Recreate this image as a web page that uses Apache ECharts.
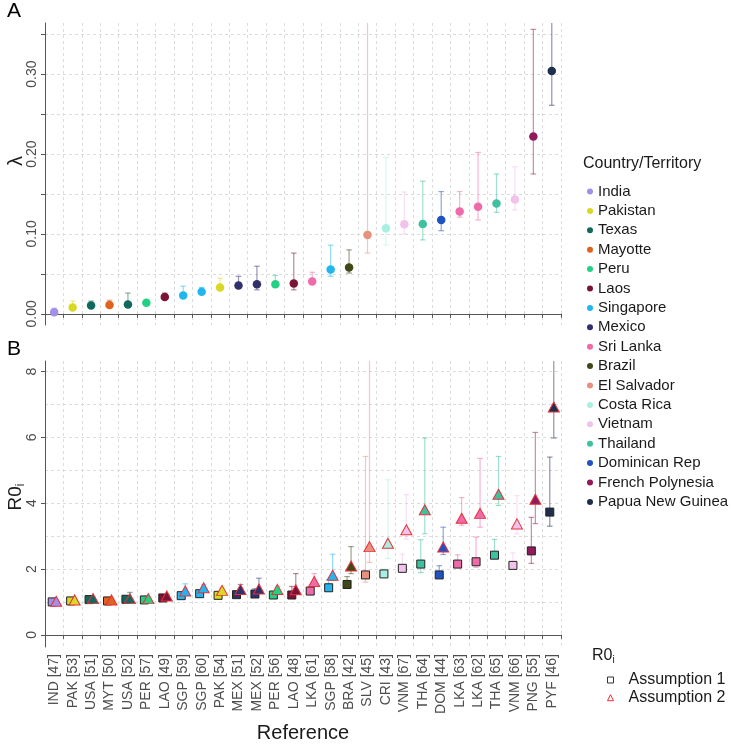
<!DOCTYPE html>
<html><head><meta charset="utf-8">
<script src="https://cdn.jsdelivr.net/npm/echarts@6/dist/echarts.min.js"></script>
<style>html,body{margin:0;padding:0;background:#fff}#c{width:735px;height:744px}</style>
</head><body><div id="c"></div><script>
const categories = ['IND [47]','PAK [53]','USA [51]','MYT [50]','USA [52]','PER [57]','LAO [49]','SGP [59]','SGP [60]','PAK [54]','MEX [51]','MEX [52]','PER [56]','LAO [48]','LKA [61]','SGP [58]','BRA [42]','SLV [45]','CRI [43]','VNM [67]','THA [64]','DOM [44]','LKA [63]','LKA [62]','THA [65]','VNM [66]','PNG [55]','PYF [46]'];
const countries = ['India','Pakistan','Texas','Mayotte','Peru','Laos','Singapore','Mexico','Sri Lanka','Brazil','El Salvador','Costa Rica','Vietnam','Thailand','Dominican Rep','French Polynesia','Papua New Guinea'];
const countryColors = ['#a38ee8','#d9d925','#11695e','#e0621f','#22d183','#7b1237','#22b6f0','#30306b','#ef6aa8','#3f4818','#e8917e','#aaf0e2','#f2c2ea','#3fc09f','#2152c2','#911a5b','#1e2f4e'];
const pointCountry = ['India','Pakistan','Texas','Mayotte','Texas','Peru','Laos','Singapore','Singapore','Pakistan','Mexico','Mexico','Peru','Laos','Sri Lanka','Singapore','Brazil','El Salvador','Costa Rica','Vietnam','Thailand','Dominican Rep','Sri Lanka','Sri Lanka','Thailand','Vietnam','French Polynesia','Papua New Guinea'];

const lambda     = [0.002,0.008,0.0104,0.011,0.0117,0.0138,0.021,0.023,0.0275,0.033,0.0354,0.037,0.037,0.038,0.0404,0.0554,0.058,0.0988,0.107,0.112,0.1125,0.1175,0.128,0.134,0.138,0.143,0.222,0.304];
const lambdaLow  = [0.000,0.006,0.008,0.009,0.009,0.012,0.019,0.020,0.025,0.031,0.0317,0.030,0.034,0.030,0.038,0.047,0.051,0.076,0.086,0.100,0.0925,0.104,0.121,0.1175,0.127,0.130,0.175,0.261];
const lambdaHigh = [0.007,0.016,0.016,0.017,0.026,0.015,0.026,0.0346,0.033,0.0446,0.047,0.0596,0.048,0.076,0.052,0.0859,0.080,0.45,0.196,0.1525,0.166,0.153,0.153,0.202,0.175,0.184,0.356,0.40];

const r0A1     = [1.00,1.03,1.07,1.03,1.08,1.06,1.12,1.19,1.25,1.20,1.22,1.24,1.21,1.21,1.33,1.43,1.53,1.82,1.85,2.02,2.15,1.82,2.15,2.22,2.42,2.11,2.55,3.73];
const r0A1Low  = [0.98,1.01,1.05,1.01,1.05,1.04,1.10,1.15,1.22,1.17,1.19,1.20,1.19,1.17,1.30,1.36,1.48,1.60,1.78,1.95,1.89,1.75,2.05,2.05,2.33,2.03,2.17,3.30];
const r0A1High = [1.03,1.06,1.10,1.05,1.12,1.08,1.15,1.24,1.30,1.24,1.27,1.40,1.25,1.47,1.37,1.68,1.77,5.42,2.00,2.45,2.89,2.10,2.43,2.97,2.90,2.49,3.57,5.40];

const r0A2     = [1.02,1.06,1.10,1.06,1.10,1.10,1.18,1.33,1.43,1.35,1.38,1.39,1.38,1.37,1.62,1.81,2.09,2.68,2.78,3.19,3.80,2.67,3.54,3.69,4.27,3.37,4.12,6.92];
const r0A2Low  = [1.00,1.03,1.07,1.03,1.05,1.07,1.14,1.25,1.35,1.30,1.32,1.30,1.33,1.28,1.50,1.65,1.86,2.20,2.32,2.91,3.07,2.44,3.33,3.27,3.93,3.07,3.38,5.98];
const r0A2High = [1.05,1.10,1.14,1.10,1.29,1.14,1.22,1.55,1.52,1.43,1.53,1.72,1.45,1.86,1.86,2.45,2.68,10.0,4.71,4.26,5.98,3.27,4.17,5.36,5.42,4.23,6.15,9.0];

const lambdaTicks  = [0,0.05,0.10,0.15,0.20,0.25,0.30,0.35];
const lambdaLabels = [0,0.10,0.20,0.30];
const r0Ticks  = [0,2,4,6,8];
const r0Grid   = [0,1,2,3,4,5,6,7,8];

const FONT = "'Liberation Sans', Arial, sans-serif";
const colorOf = i => countryColors[countries.indexOf(pointCountry[i])];
const gridLine = {show:true, interval:0, lineStyle:{color:'#dcdcdc', type:[3,3], width:1}};
const axisLn = {show:true, lineStyle:{color:'#555', width:1}};
const axisTk = {show:true, length:4, lineStyle:{color:'#555'}};

function errorBar(dx, lows, highs, yAxisIndex, xAxisIndex, z){
  return {
    type:'custom', xAxisIndex, yAxisIndex, z, clip:true, silent:true,
    data: categories.map((c,i)=>[i, lows[i], highs[i]]),
    encode:{x:0, y:[1,2]},
    renderItem(params, api){
      const i = api.value(0);
      const p1 = api.coord([i, api.value(1)]);
      const p2 = api.coord([i, api.value(2)]);
      const x = p1[0] + dx, w = 2.8;
      const st = {stroke: colorOf(params.dataIndex), lineWidth:1.2, opacity:0.5};
      return {type:'group', children:[
        {type:'line', shape:{x1:x,y1:p1[1],x2:x,y2:p2[1]}, style:st},
        {type:'line', shape:{x1:x-w,y1:p1[1],x2:x+w,y2:p1[1]}, style:st},
        {type:'line', shape:{x1:x-w,y1:p2[1],x2:x+w,y2:p2[1]}, style:st}
      ]};
    }
  };
}

const series = [];
series.push(errorBar(0, lambdaLow, lambdaHigh, 0, 0, 1));
countries.forEach((c, k)=>{
  series.push({
    name:c, type:'scatter', xAxisIndex:0, yAxisIndex:0, z:3,
    symbol:'circle', symbolSize:8.5,
    itemStyle:{color:countryColors[k], opacity:1},
    data: categories.map((cat,i)=> pointCountry[i]===c ? [i, lambda[i]] : null).filter(Boolean)
  });
});
series.push(errorBar(-2, r0A1Low, r0A1High, 1, 1, 1));
series.push(errorBar(2, r0A2Low, r0A2High, 1, 1, 1));
series.push({
  name:'Assumption 1', type:'scatter', xAxisIndex:1, yAxisIndex:1, z:3,
  symbol:'rect', symbolSize:8, symbolOffset:[-2,0],
  itemStyle:{color:'#fff', borderColor:'#222', borderWidth:1, opacity:1},
  data: r0A1.map((v,i)=>({value:[i,v], itemStyle:{color:colorOf(i)}}))
});
series.push({
  name:'Assumption 2', type:'scatter', xAxisIndex:1, yAxisIndex:1, z:4,
  symbol:'triangle', symbolSize:[11,10], symbolOffset:[2,0],
  itemStyle:{color:'#fff', borderColor:'#e8303a', borderWidth:1, opacity:1},
  data: r0A2.map((v,i)=>({value:[i,v], itemStyle:{color:colorOf(i)}}))
});

const chart = echarts.init(document.getElementById('c'), null, {renderer:'canvas'});
chart.setOption({
  animation:false,
  backgroundColor:'#fff',
  textStyle:{fontFamily:FONT},
  grid:[
    {left:45, top:23, width:516, height:302},
    {left:45, top:361, width:516, height:290}
  ],
  xAxis:[
    {gridIndex:0, type:'category', data:categories, axisLine:axisLn, axisTick:Object.assign({interval:0},axisTk), axisLabel:{show:false}, splitLine:gridLine},
    {gridIndex:1, type:'category', data:categories, axisLine:axisLn, axisTick:Object.assign({interval:0},axisTk),
     axisLabel:{interval:0, rotate:90, fontSize:14, color:'#4d4d4d', margin:7, fontFamily:FONT}, splitLine:gridLine,
     name:'Reference', nameLocation:'middle', nameGap:76, nameTextStyle:{fontSize:20, color:'#1a1a1a', fontFamily:FONT}}
  ],
  yAxis:[
    {gridIndex:0, type:'value', min:-0.014, max:0.364, axisLine:axisLn,
     axisTick:Object.assign({customValues:lambdaTicks},axisTk),
     axisLabel:{customValues:lambdaLabels, rotate:90, fontSize:14, color:'#4d4d4d', margin:6, fontFamily:FONT, formatter:v=>v.toFixed(2)},
     splitLine:{show:true, lineStyle:{color:'#dcdcdc', type:[3,3], width:1}}},
    {gridIndex:1, type:'value', min:-0.37, max:8.32, axisLine:axisLn,
     axisTick:Object.assign({customValues:r0Ticks},axisTk),
     axisLabel:{customValues:r0Ticks, rotate:90, fontSize:14, color:'#4d4d4d', margin:6, fontFamily:FONT},
     splitLine:{show:false}},
    {gridIndex:1, type:'value', min:-0.37, max:8.32, position:'left', axisLine:{show:false},
     axisTick:{show:false, customValues:r0Grid}, axisLabel:{show:false},
     splitLine:{show:true, lineStyle:{color:'#dcdcdc', type:[3,3], width:1}}}
  ],
  legend:[
    {data:countries, orient:'vertical', left:582, top:179, padding:5, icon:'circle', itemWidth:6, itemHeight:6, itemGap:4.4,
     textStyle:{fontSize:15, color:'#1a1a1a', lineHeight:15, fontFamily:FONT}, selectedMode:false},
    {data:[
      {name:'Assumption 1', icon:'rect', itemStyle:{color:'#fff', borderColor:'#333', borderWidth:1}},
      {name:'Assumption 2', icon:'triangle', itemStyle:{color:'#fff', borderColor:'#e8303a', borderWidth:1}}
     ], orient:'vertical', left:602, top:667, padding:5, itemWidth:6, itemHeight:6, itemGap:1.7,
     textStyle:{fontSize:16, color:'#1a1a1a', lineHeight:16, padding:[0,0,0,10], fontFamily:FONT}, selectedMode:false}
  ],
  title:[
    {text:'Country/Territory', left:583, top:156, padding:0, textStyle:{fontSize:16, fontWeight:'normal', color:'#1a1a1a', fontFamily:FONT}},
    {text:'{b|R0}{s|i}', left:592, top:646, padding:0, textStyle:{fontSize:16, fontWeight:'normal', color:'#1a1a1a', fontFamily:FONT,
      rich:{b:{fontSize:16, color:'#1a1a1a', fontFamily:FONT}, s:{fontSize:10, color:'#1a1a1a', padding:[9,0,0,0], fontFamily:FONT}}}},
    {text:'A', left:7, top:1, padding:0, textStyle:{fontSize:21, fontWeight:'normal', color:'#000', fontFamily:FONT}},
    {text:'B', left:7, top:339, padding:0, textStyle:{fontSize:21, fontWeight:'normal', color:'#000', fontFamily:FONT}}
  ],
  graphic:[
    {type:'text', x:16, y:161, rotation:Math.PI/2, style:{text:'λ', fontSize:20, fill:'#1a1a1a', fontFamily:FONT, align:'center', verticalAlign:'middle'}},
    {type:'text', x:16, y:497, rotation:Math.PI/2, style:{text:'{b|R0}{s|i}', fill:'#1a1a1a', align:'center', verticalAlign:'middle',
      rich:{b:{fontSize:19, fontFamily:FONT, fill:'#1a1a1a'}, s:{fontSize:12, fontFamily:FONT, fill:'#1a1a1a', padding:[10,0,0,0]}}}}
  ],
  series
});
</script></body></html>
